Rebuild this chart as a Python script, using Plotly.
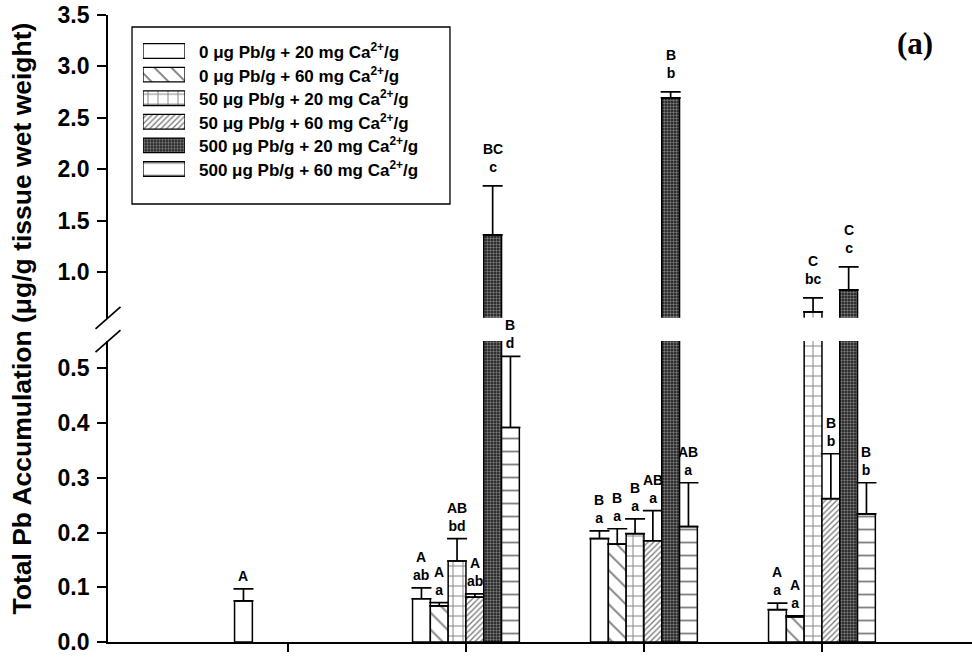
import plotly.graph_objects as go

# ---- data -------------------------------------------------------------
groups = [1, 2, 3, 4]

treatments = [
    "0 μg Pb/g + 20 mg Ca<sup>2+</sup>/g",
    "0 μg Pb/g + 60 mg Ca<sup>2+</sup>/g",
    "50 μg Pb/g + 20 mg Ca<sup>2+</sup>/g",
    "50 μg Pb/g + 60 mg Ca<sup>2+</sup>/g",
    "500 μg Pb/g + 20 mg Ca<sup>2+</sup>/g",
    "500 μg Pb/g + 60 mg Ca<sup>2+</sup>/g",
]

# mean total Pb (μg/g tissue wet weight); None = not measured
pb0_ca20 = [0.075, 0.079, 0.189, 0.059]
pb0_ca60 = [None, 0.066, 0.179, 0.046]
pb50_ca20 = [None, 0.148, 0.198, 0.611]
pb50_ca60 = [None, 0.082, 0.185, 0.262]
pb500_ca20 = [None, 1.360, 2.693, 0.825]
pb500_ca60 = [None, 0.392, 0.211, 0.234]

# upper error (SE)
err_pb0_ca20 = [0.022, 0.020, 0.014, 0.012]
err_pb0_ca60 = [None, 0.006, 0.028, 0.002]
err_pb50_ca20 = [None, 0.041, 0.027, 0.136]
err_pb50_ca60 = [None, 0.006, 0.055, 0.082]
err_pb500_ca20 = [None, 0.477, 0.058, 0.224]
err_pb500_ca60 = [None, 0.130, 0.080, 0.057]

# significance letters (upper case / lower case)
upper_pb0_ca20 = ["A", "A", "B", "A"]
lower_pb0_ca20 = ["", "ab", "a", "a"]
upper_pb0_ca60 = [None, "A", "B", "A"]
lower_pb0_ca60 = [None, "a", "a", "a"]
upper_pb50_ca20 = [None, "AB", "B", "C"]
lower_pb50_ca20 = [None, "bd", "a", "bc"]
upper_pb50_ca60 = [None, "A", "AB", "B"]
lower_pb50_ca60 = [None, "ab", "a", "b"]
upper_pb500_ca20 = [None, "BC", "B", "C"]
lower_pb500_ca20 = [None, "c", "b", "c"]
upper_pb500_ca60 = [None, "B", "AB", "B"]
lower_pb500_ca60 = [None, "d", "a", "b"]

means = [pb0_ca20, pb0_ca60, pb50_ca20, pb50_ca60, pb500_ca20, pb500_ca60]
errs = [err_pb0_ca20, err_pb0_ca60, err_pb50_ca20, err_pb50_ca60,
        err_pb500_ca20, err_pb500_ca60]
uppers = [upper_pb0_ca20, upper_pb0_ca60, upper_pb50_ca20, upper_pb50_ca60,
          upper_pb500_ca20, upper_pb500_ca60]
lowers = [lower_pb0_ca20, lower_pb0_ca60, lower_pb50_ca20, lower_pb50_ca60,
          lower_pb500_ca20, lower_pb500_ca60]

# ---- styling ----------------------------------------------------------
patterns = [
    dict(shape=""),
    dict(shape="\\", size=12, solidity=0.16, fgcolor="black", bgcolor="white"),
    dict(shape="+", size=10, solidity=0.18, fgcolor="black", bgcolor="white"),
    dict(shape="/", size=4, solidity=0.35, fgcolor="black", bgcolor="white"),
    dict(shape=".", size=3, solidity=0.5, fgcolor="#e0e0e0", bgcolor="#151515"),
    dict(shape="-", size=13, solidity=0.14, fgcolor="black", bgcolor="white"),
]

FONT = "Liberation Sans, Arial, sans-serif"
BAR_W = 0.1
BREAK_LO = 0.55      # top of lower panel
BREAK_HI = 0.553     # bottom of upper panel
LOW_DOM = [0.0, 0.48]
UP_DOM = [0.517, 1.0]

fig = go.Figure()

# main bars: each series drawn in both halves of the broken axis
for i, (vals, er) in enumerate(zip(means, errs)):
    offset = -3 * BAR_W + i * BAR_W
    for yax in ("y", "y2"):
        fig.add_trace(go.Bar(
            x=groups, y=vals, width=BAR_W, offset=offset,
            xaxis="x", yaxis=yax, showlegend=False,
            marker=dict(color="white" if i != 4 else "#151515",
                        line=dict(color="black", width=1.5),
                        pattern=patterns[i]),
            error_y=dict(type="data", symmetric=False, array=er,
                         arrayminus=[0 if v is not None else None for v in er],
                         color="black", thickness=1.7, width=10),
        ))

# significance letters above the error bars
for i in range(6):
    cx_off = -2.5 * BAR_W + i * BAR_W
    for g, v, e, up, lo in zip(groups, means[i], errs[i], uppers[i], lowers[i]):
        if v is None:
            continue
        top = v + e
        in_upper = top > BREAK_LO
        text = up if not lo else f"{up}<br>{lo}"
        fig.add_annotation(
            x=g + cx_off, y=top, xref="x", yref="y2" if in_upper else "y",
            text=text, showarrow=False, xanchor="center", yanchor="bottom",
            yshift=9 if in_upper else 3,
            font=dict(family=FONT, size=14, color="black", weight="bold"),
        )

# legend swatches drawn as bars on their own small axes
for i in range(6):
    fig.add_trace(go.Bar(
        x=[1], y=[i], orientation="h", width=0.62, offset=-0.31,
        xaxis="x2", yaxis="y3", showlegend=False, hoverinfo="skip",
        marker=dict(color="white" if i != 4 else "#151515",
                    line=dict(color="black", width=1.3),
                    pattern=patterns[i]),
    ))
    fig.add_annotation(
        x=0.103, y=i, xref="paper", yref="y3", text=treatments[i],
        showarrow=False, xanchor="left", yanchor="middle",
        font=dict(family=FONT, size=17, color="black", weight="bold"),
    )

# legend frame
fig.add_shape(type="rect", xref="paper", yref="paper",
              x0=0.0278, x1=0.3958, y0=0.6986, y1=0.9809,
              line=dict(color="black", width=1.3), fillcolor="rgba(0,0,0,0)")

# axis break marks
dx, dy = 12.5 / 864, 11 / 627
for yc in (UP_DOM[0], LOW_DOM[1]):
    fig.add_shape(type="line", xref="paper", yref="paper",
                  x0=-dx, y0=yc - dy, x1=dx, y1=yc + dy,
                  line=dict(color="black", width=1.7))

# y-axis title
fig.add_annotation(
    x=-0.0995, y=0.516, xref="paper", yref="paper",
    text="Total Pb Accumulation (μg/g tissue wet weight)",
    textangle=-90, showarrow=False, xanchor="center", yanchor="middle",
    font=dict(family=FONT, size=26.5, color="black", weight="bold"),
)

# panel tag
fig.add_annotation(
    x=0.934, y=0.955, xref="paper", yref="paper", text="(a)",
    showarrow=False, xanchor="center", yanchor="middle",
    font=dict(family="Liberation Serif, Times New Roman, serif", size=31,
              color="black", weight="bold"),
)

tickfont = dict(family=FONT, size=23, color="black", weight="bold")
axis_common = dict(showgrid=False, zeroline=False, showline=True,
                   linecolor="black", linewidth=1.7, ticks="outside",
                   tickcolor="black", tickwidth=1.7, ticklen=9,
                   tickfont=tickfont, tickformat=".1f", ticklabelstandoff=3)

hidden_axis = dict(showticklabels=False, ticks="", showline=False,
                   showgrid=False, zeroline=False, fixedrange=True)

fig.update_layout(
    width=972, height=657,
    margin=dict(l=108, r=0, t=15, b=15),
    paper_bgcolor="white", plot_bgcolor="white",
    barmode="overlay",
    showlegend=False,
    xaxis=dict(range=[-0.011, 4.843], domain=[0, 1], anchor="y",
               tickvals=groups, showticklabels=False, ticks="outside",
               ticklen=8, tickwidth=1.7, tickcolor="black",
               showline=True, linecolor="black", linewidth=1.7,
               showgrid=False, zeroline=False),
    yaxis=dict(domain=LOW_DOM, range=[0, BREAK_LO], anchor="x",
               tick0=0, dtick=0.1, **axis_common),
    yaxis2=dict(domain=UP_DOM, range=[BREAK_HI, 3.5], anchor="x",
                tick0=0, dtick=0.5, **axis_common),
    xaxis2=dict(domain=[0.0405, 0.0891], range=[0, 1], anchor="y3",
                **hidden_axis),
    yaxis3=dict(domain=[0.7356, 0.9614], range=[5.5, -0.5], anchor="x2",
                **hidden_axis),
)

fig.write_html("out.html")
